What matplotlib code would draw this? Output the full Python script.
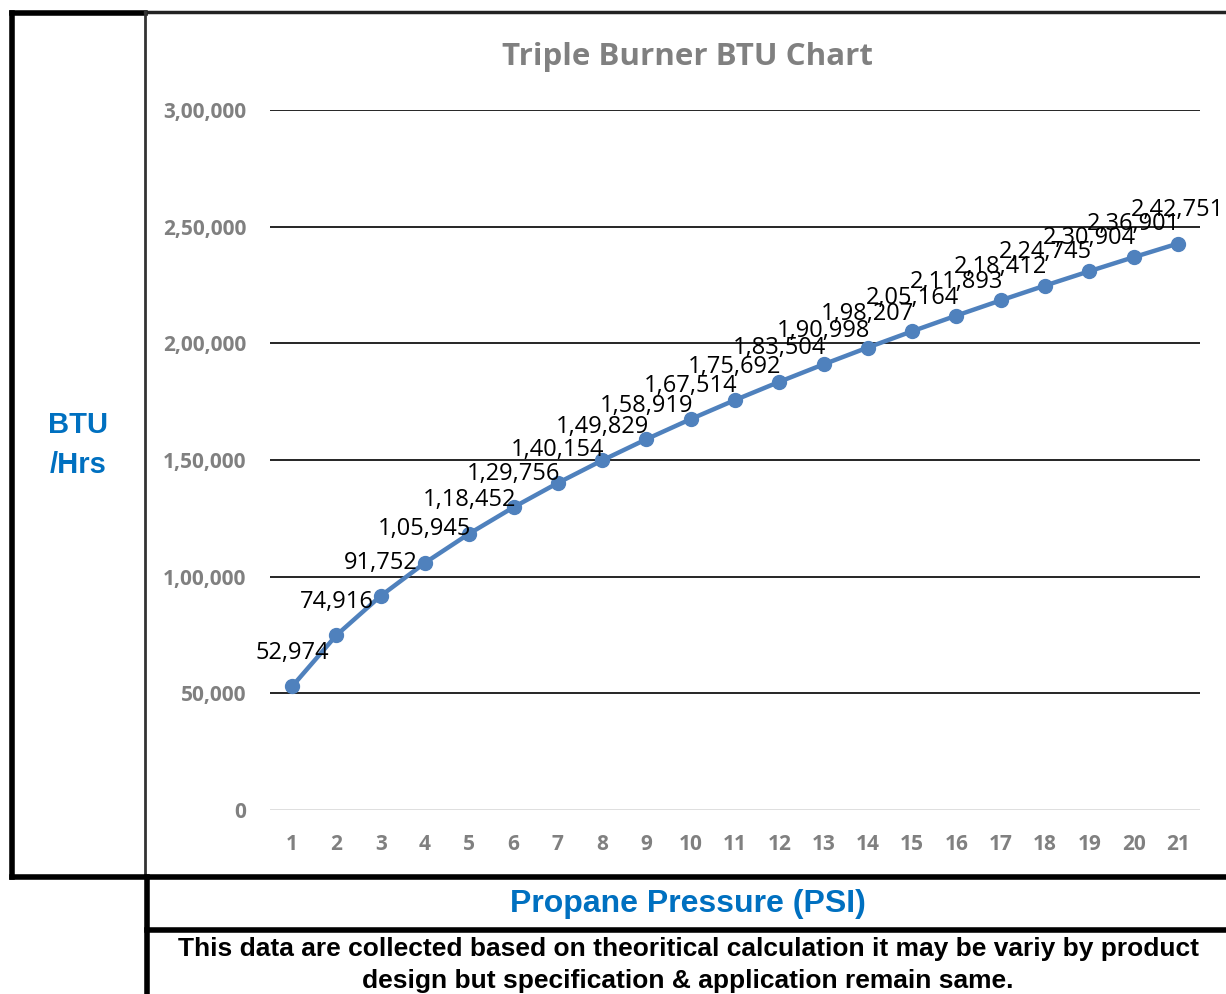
import matplotlib.pyplot as plt
from matplotlib.lines import Line2D

# Данные графика
pressure_psi = list(range(1, 22))
btu_per_hr = [52974, 74916, 91752, 105945, 118452, 129756, 140154, 149829,
              158919, 167514, 175692, 183504, 190998, 198207, 205164, 211893,
              218412, 224745, 230904, 236901, 242751]
y_ticks = [0, 50000, 100000, 150000, 200000, 250000, 300000]


def indian_format(v):
    # формат 1,00,000 (индийская группировка)
    s = str(int(v))
    if len(s) <= 3:
        return s
    head, tail = s[:-3], s[-3:]
    parts = []
    while len(head) > 2:
        parts.insert(0, head[-2:])
        head = head[:-2]
    if head:
        parts.insert(0, head)
    return ','.join(parts) + ',' + tail


W, H = 1226, 994
fig = plt.figure(figsize=(W / 100, H / 100), dpi=100)

ax = fig.add_axes([270 / W, 1 - 810 / H, 930 / W, 700 / H])
ax.plot(pressure_psi, btu_per_hr, color='#4F81BD', linewidth=3.2,
        marker='o', markersize=10, zorder=3)
for x, y in zip(pressure_psi, btu_per_hr):
    ax.annotate(indian_format(y), (x, y), xytext=(0, 24), textcoords='offset points',
                ha='center', va='center', fontsize=17, color='black',
                family='Open Sans', zorder=4)

ax.set_xlim(0.5, 21.5)
ax.set_ylim(0, 300000)
ax.set_xticks(pressure_psi)
ax.set_yticks(y_ticks)
ax.set_yticklabels([indian_format(v) for v in y_ticks])
for v in y_ticks[1:]:
    ax.axhline(v, color='black', linewidth=1.2, zorder=1)
ax.axhline(0, color='#D9D9D9', linewidth=1.2, zorder=1)
for s in ax.spines.values():
    s.set_visible(False)
ax.tick_params(length=0, labelsize=15, labelcolor='#808080')
for lbl in ax.get_xticklabels() + ax.get_yticklabels():
    lbl.set_fontweight('bold')
    lbl.set_family('Open Sans')
ax.tick_params(axis='y', pad=17)
ax.tick_params(axis='x', pad=17)

fig.text(687 / W, 1 - 57 / H, 'Triple Burner BTU Chart', ha='center', va='center',
         fontsize=22.5, fontweight='bold', color='#808080', family='Open Sans')
fig.text(78 / W, 1 - 445 / H, 'BTU\n/Hrs', ha='center', va='center', fontsize=21,
         fontweight='bold', color='#0070C0', family='Liberation Sans', linespacing=1.55)
fig.text(688 / W, 1 - 904 / H, 'Propane Pressure (PSI)', ha='center', va='center',
         fontsize=23, fontweight='bold', color='#0070C0', family='Liberation Sans')
fig.text(688 / W, 1 - 965 / H,
         'This data are collected based on theoritical calculation it may be variy by product\n'
         'design but specification & application remain same.',
         ha='center', va='center', fontsize=19, fontweight='bold', color='black',
         family='Liberation Sans', linespacing=1.42)


# рамки
def fline(x0, y0, x1, y1, lw, color='black'):
    fig.add_artist(Line2D([x0 / W, x1 / W], [1 - y0 / H, 1 - y1 / H],
                          color=color, linewidth=lw, solid_capstyle='projecting'))


fline(12, 13, 145, 13, 4)
fline(12, 13, 12, 877, 4)
fline(145, 12, 1226, 12, 2.5, '#222222')
fline(145, 12, 145, 877, 2, '#333333')
fline(12, 877, 1226, 877, 4)
fline(147, 877, 147, 994, 4)
fline(147, 930, 1226, 930, 4)

plt.savefig('out.png', dpi=100)
